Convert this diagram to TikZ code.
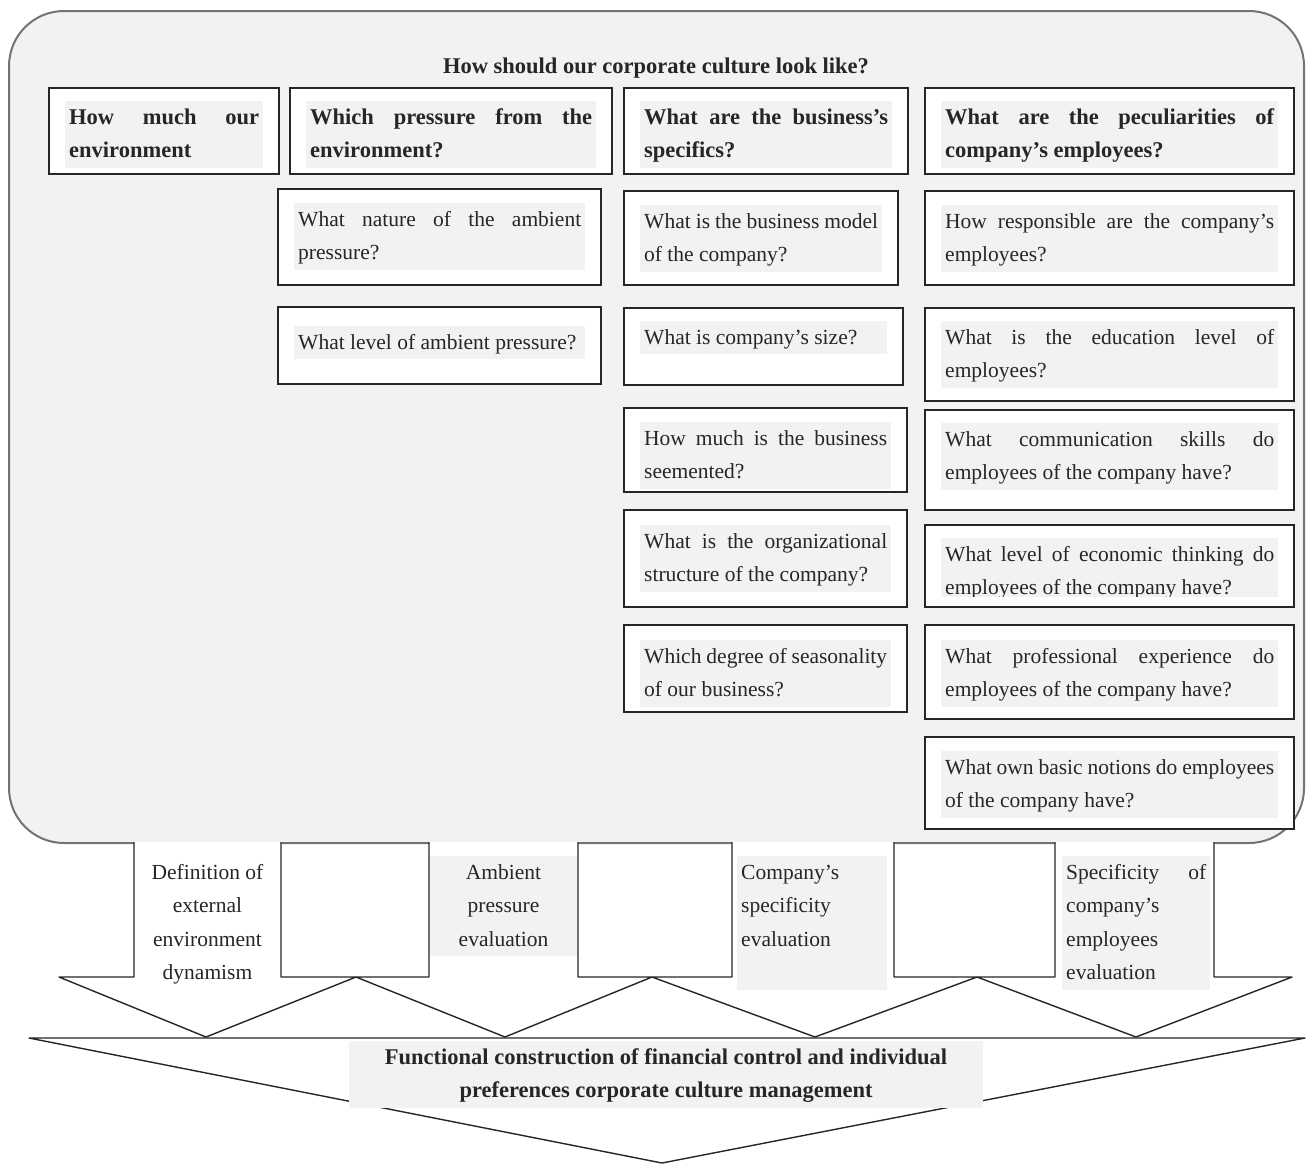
\documentclass[tikz,border=0pt]{standalone}
\usepackage{fontspec}
\setmainfont{Liberation Serif}
\usetikzlibrary{calc}
\definecolor{framebg}{HTML}{F2F2F2}
\definecolor{frameline}{HTML}{737373}
\definecolor{hl}{HTML}{F2F2F2}
\definecolor{lineblk}{HTML}{262626}
\newcommand\qfont{\fontsize{21.5}{33.5}\selectfont\spaceskip=0.25em plus 2em minus 0.1em\relax\hyphenpenalty=10000 \exhyphenpenalty=10000 }
\newcommand\qbfont{\fontsize{22.5}{33.5}\selectfont\bfseries\spaceskip=0.25em plus 2em minus 0.1em\relax\hyphenpenalty=10000 \exhyphenpenalty=10000 }
\newcommand\lfont{\fontsize{21.5}{33.5}\selectfont\hyphenpenalty=10000 \exhyphenpenalty=10000 }
\newcommand\lbfont{\fontsize{22.5}{33.5}\selectfont\bfseries\hyphenpenalty=10000 \exhyphenpenalty=10000 }
\tikzset{
  frame/.style={draw=frameline, line width=2pt, fill=framebg, rounded corners=55pt, inner sep=0pt},
  qbox/.style={draw=lineblk, line width=1.6pt, fill=white, inner sep=0pt},
  qtxt/.style={fill=hl, inner xsep=4pt, inner ysep=0pt, align=justify, font=\qfont,
    text=black!85, execute at begin node=\strut, execute at end node=\strut},
  qbold/.style={font=\qbfont},
  arrowshape/.style={draw=lineblk, line width=1.4pt, fill=white, line join=round},
  lab/.style={inner xsep=4pt, inner ysep=0pt, font=\lfont, text=black!85,
    execute at begin node=\strut, execute at end node=\strut},
}
% #1 name, #2 x1, #3 y1, #4 x2, #5 y2, #6 baseline offset, #7 text style, #8 text
\newcommand\qbx[8]{%
  \pgfmathsetmacro\bw{#4-#2}\pgfmathsetmacro\bh{#5-#3}\pgfmathsetmacro\tw{#4-#2-40}%
  \node[qbox, minimum width=\bw pt, minimum height=\bh pt, anchor=north west] (#1) at (#2,#3) {};
  \node[qtxt, text width=\tw pt, anchor=base west, #7] (#1-t) at ($(#1.north west)+(17,#6)$) {#8};
}
\begin{document}
\begin{tikzpicture}[x=1pt, y=-1pt]
\useasboundingbox (0,0) rectangle (1308,1165);

% big frame
\node[frame, minimum width=1295pt, minimum height=832pt, anchor=north west] (frame) at (8,10) {};
\node[font=\qbfont, text=black!85, anchor=base] (title) at (656,73) {How should our corporate culture look like?};

% first row
\qbx{A1}{48}{87}{278}{173}{37}{qbold}{How much our environment}
\qbx{B1}{289}{87}{611}{173}{37}{qbold}{Which pressure from the environment?}
\qbx{C1}{623}{87}{907}{173}{37}{qbold}{What are the business’s specifics?}
\qbx{D1}{924}{87}{1293}{173}{37}{qbold}{What are the peculiarities of company’s employees?}

% column B
\qbx{B2}{277}{188}{600}{284}{38}{}{What nature of the ambient pressure?}
\qbx{B3}{277}{306}{600}{383}{43}{}{What level of ambient pressure?}

% column C
\qbx{C2}{623}{190}{897}{284}{38}{}{What is the business model of the company?}
\qbx{C3}{623}{307}{902}{384}{37}{}{What is company’s size?}
\qbx{C4}{623}{407}{906}{491}{38}{}{How much is the business seemented?}
\qbx{C5}{623}{509}{906}{606}{39}{}{What is the organizational structure of the company?}
\qbx{C6}{623}{624}{906}{711}{39}{}{Which degree of seasonality of our business?}

% column D
\qbx{D2}{924}{190}{1293}{284}{38}{}{How responsible are the company’s employees?}
\qbx{D3}{924}{307}{1293}{400}{37}{}{What is the education level of employees?}
\qbx{D4}{924}{409}{1293}{509}{37}{}{What communication skills do employees of the company have?}
\node[qbox, minimum width=369pt, minimum height=82pt, anchor=north west] (D5) at (924,524) {};
\begin{scope}
  \clip (924,524) rectangle (1293,596);
  \node[qtxt, text width=329pt, anchor=base west] (D5-t) at ($(D5.north west)+(17,37)$) {What level of economic thinking do employees of the company have?};
\end{scope}
\qbx{D6}{924}{624}{1293}{718}{39}{}{What professional experience do employees of the company have?}
\qbx{D7}{924}{736}{1293}{828}{38}{}{What own basic notions do employees of the company have?}

% four arrows
\draw[arrowshape] (134,842) -- (134,977) -- (59,977) -- (206,1037) -- (356,977) -- (281,977) -- (281,842);
\draw[arrowshape] (429,842) -- (429,977) -- (356,977) -- (505,1037) -- (652,977) -- (578,977) -- (578,842);
\draw[arrowshape] (732,842) -- (732,977) -- (652,977) -- (815,1037) -- (977,977) -- (894,977) -- (894,842);
\draw[arrowshape] (1055,842) -- (1055,977) -- (977,977) -- (1136,1037) -- (1292,977) -- (1214,977) -- (1214,842);

\node[lab, text width=140pt, align=flush center, anchor=base] (L1) at (207.5,879) {Definition of external environment dynamism};
\node[lab, fill=hl, text width=139pt, align=flush center, anchor=base] (L2) at (503.5,879) {Ambient pressure evaluation};
\node[lab, fill=hl, text width=142pt, align=flush left, anchor=base west] (L3) at (737,879) {Company’s\\specificity\\evaluation\\[0pt]\mbox{}};
\node[lab, fill=hl, font=\qfont, text width=140pt, align=justify, anchor=base west] (L4) at (1062,879) {Specificity of company’s employees evaluation};

% bottom arrow
\draw[arrowshape] (29,1038) -- (1305,1038) -- (662,1163) -- cycle;
\node[lab, fill=hl, font=\lbfont, text width=600pt, inner xsep=17pt, align=flush center, anchor=base] (result) at (666,1064)
  {Functional construction of financial control and individual preferences corporate culture management};
\end{tikzpicture}
\end{document}
